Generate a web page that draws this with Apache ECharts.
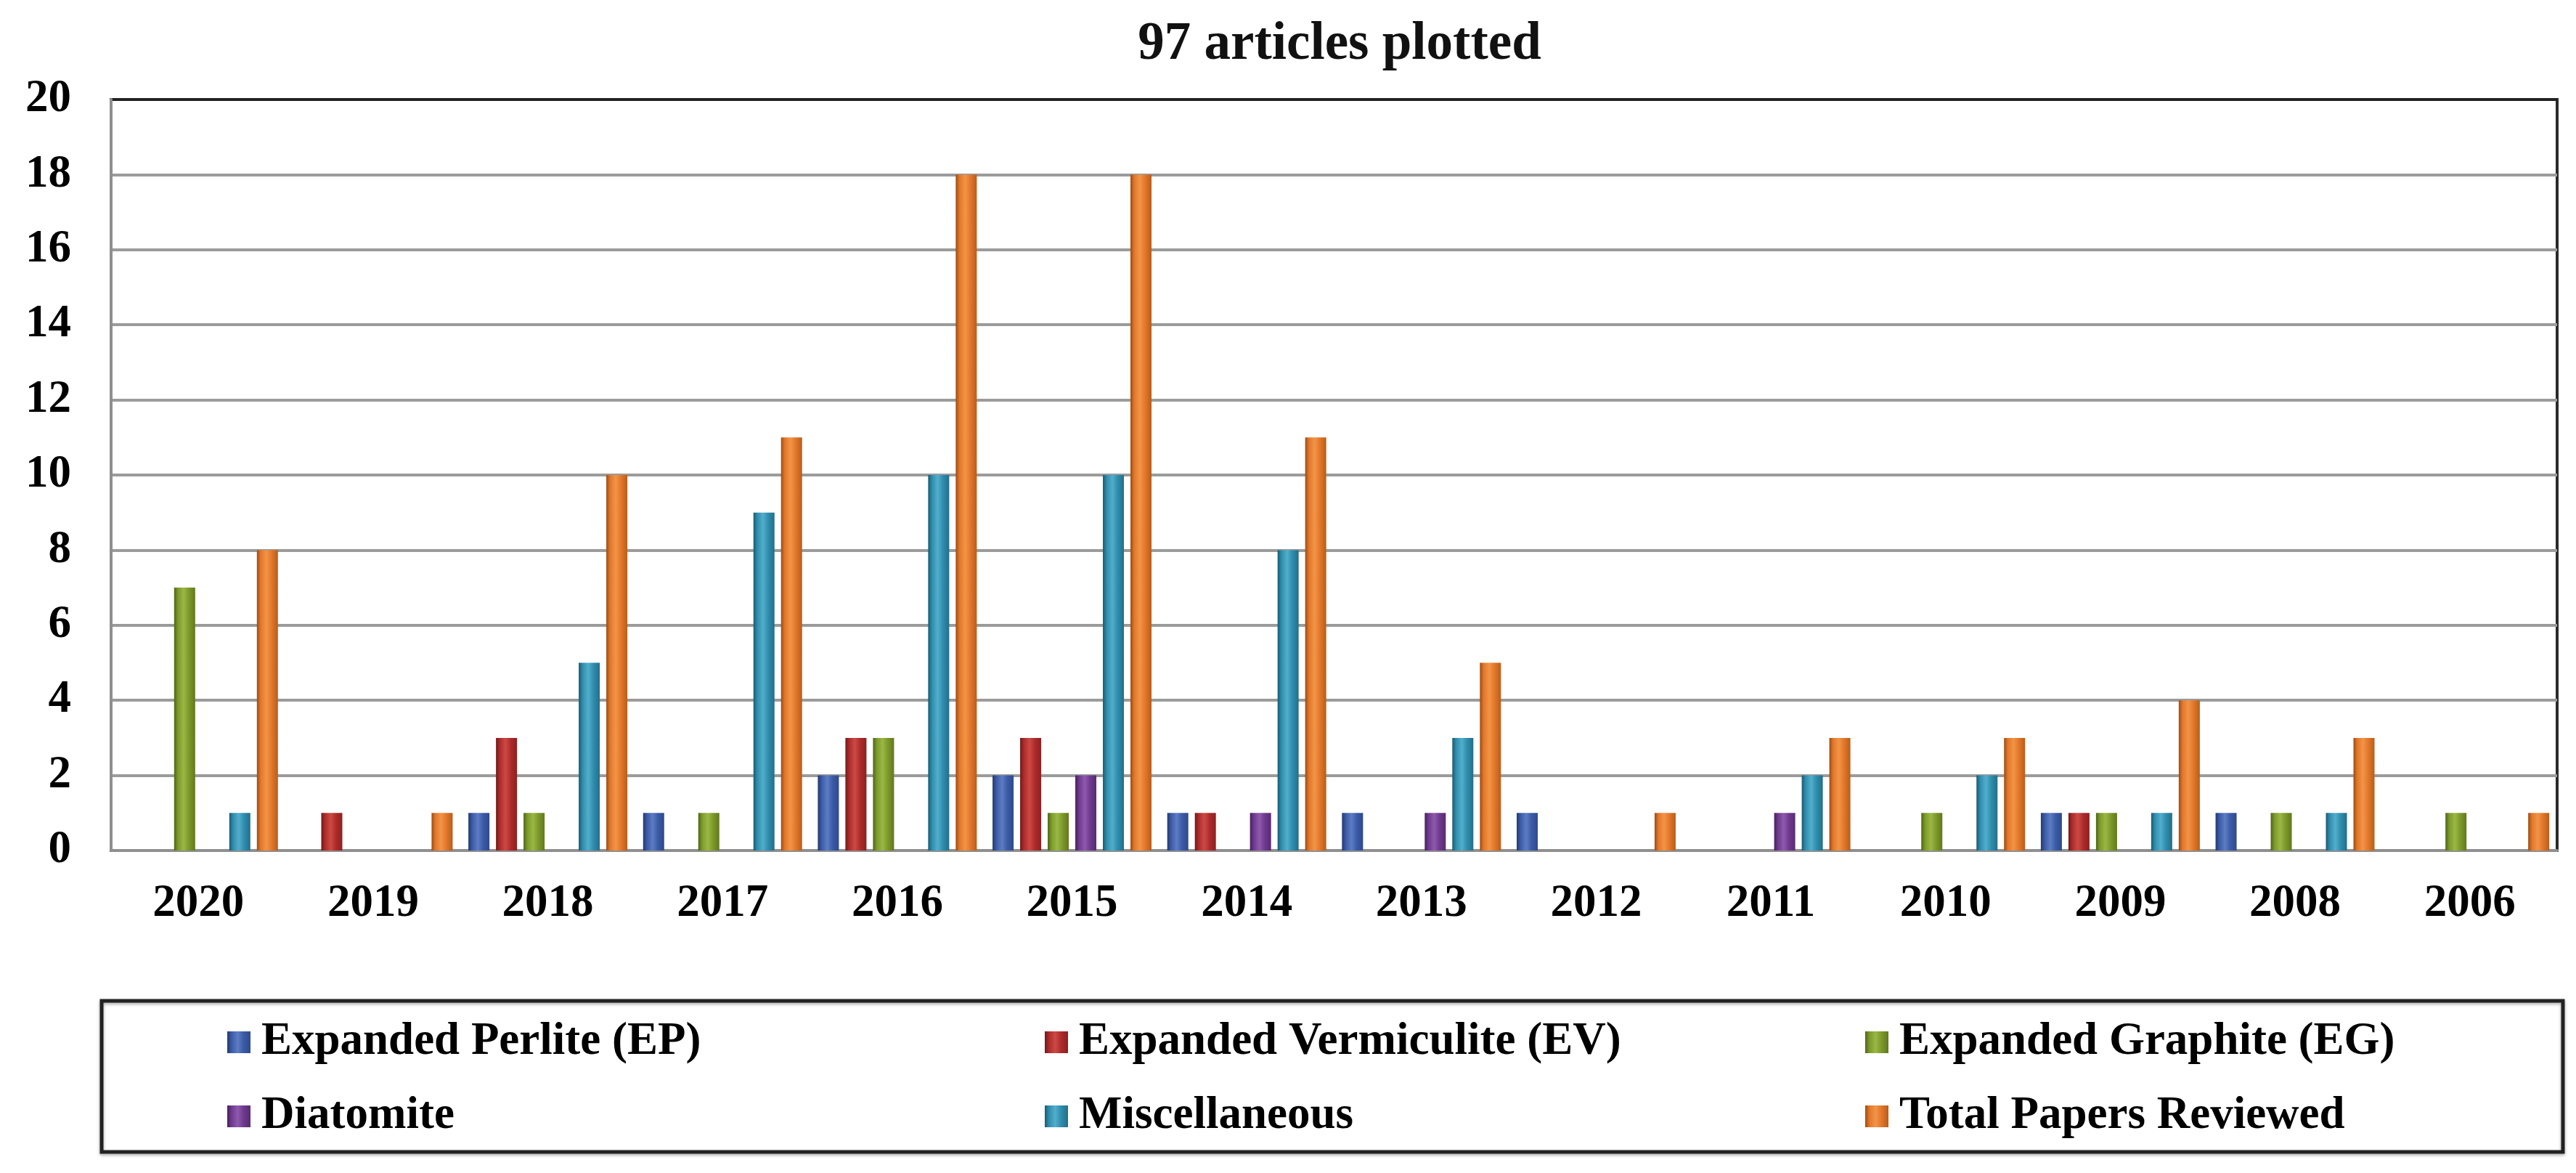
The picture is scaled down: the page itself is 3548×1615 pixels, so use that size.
<!DOCTYPE html>
<html>
<head>
<meta charset="utf-8">
<script src="https://cdn.jsdelivr.net/npm/echarts@6/dist/echarts.min.js"></script>
<style>
html,body{margin:0;padding:0;background:#ffffff;}
#chart{width:3548px;height:1615px;}
</style>
</head>
<body>
<div id="chart"></div>
<script>
// ---- data ----
const categories = ['2020','2019','2018','2017','2016','2015','2014','2013','2012','2011','2010','2009','2008','2006'];
const seriesNames = ['Expanded Perlite (EP)','Expanded Vermiculite (EV)','Expanded Graphite (EG)','Diatomite','Miscellaneous','Total Papers Reviewed'];
const perliteEP      = [0,0,1,1,2,2,1,1,1,0,0,1,1,0];
const vermiculiteEV  = [0,1,3,0,3,3,1,0,0,0,0,1,0,0];
const graphiteEG     = [7,0,1,1,3,1,0,0,0,0,1,1,1,1];
const diatomite      = [0,0,0,0,0,2,1,1,0,1,0,0,0,0];
const miscellaneous  = [1,0,5,9,10,10,8,3,0,2,2,1,1,0];
const totalReviewed  = [8,1,10,11,18,18,11,5,1,3,3,4,3,1];
const yTickLabels    = ['0','2','4','6','8','10','12','14','16','18','20'];
const titleText = '97 articles plotted';

// ---- styles ----
const seriesData = [perliteEP, vermiculiteEV, graphiteEG, diatomite, miscellaneous, totalReviewed];
const palettes = [
  ['#24386e','#3b5ba6','#5d7cc4','#2e4a8e'],
  ['#6e1a1a','#ad2b2b','#cc4a45','#8e2020'],
  ['#4f6418','#7c9a2a','#9bb845','#62781e'],
  ['#45205c','#6f3a8e','#8e5aad','#572b72'],
  ['#1b5a70','#2f8dad','#52aecb','#236f89'],
  ['#9a4c14','#e2772a','#f29447','#b95d1a']
];
function grad(p){
  return {type:'linear',x:0,y:0,x2:1,y2:0,colorStops:[
    {offset:0,color:p[0]},{offset:0.18,color:p[1]},{offset:0.45,color:p[2]},
    {offset:0.7,color:p[1]},{offset:1,color:p[3]}]};
}
const FONT = "'Liberation Serif','Times New Roman',serif";

const series = seriesNames.map((name,i)=>({
  name: name,
  type: 'bar',
  data: seriesData[i],
  barWidth: 29,
  barGap: '31%',
  barCategoryGap: '9%',
  itemStyle: {color: grad(palettes[i])},
  emphasis: {disabled: true}
}));

const legendLefts = [313, 1439, 2569];
const legendTops = [1403, 1505];
const legends = seriesNames.map((name,i)=>({
  data: [name],
  left: legendLefts[i%3],
  top: legendTops[Math.floor(i/3)],
  padding: 0,
  itemWidth: 32,
  itemHeight: 30,
  icon: 'rect',
  selectedMode: false,
  textStyle: {fontFamily: FONT, fontWeight: 'bold', fontSize: 63, color: '#000', lineHeight: 64, padding: [0,0,0,10]}
}));

const splitColors = yTickLabels.map((t,i)=> i === yTickLabels.length-1 ? '#222222' : '#9b9b9b');

const chart = echarts.init(document.getElementById('chart'), null, {renderer:'canvas'});
chart.setOption({
  animation: false,
  backgroundColor: '#ffffff',
  title: {
    text: titleText,
    left: 1845,
    top: 26,
    padding: 0,
    textAlign: 'center',
    textStyle: {fontFamily: FONT, fontWeight: 'bold', fontSize: 73, color: '#111'}
  },
  legend: legends,
  grid: {
    left: 153, right: 26, top: 137, bottom: 444,
    show: true, borderColor: '#2a2a2a', borderWidth: 4, backgroundColor: 'transparent'
  },
  xAxis: {
    type: 'category',
    data: categories,
    axisLine: {lineStyle: {color: '#8f8f8f', width: 4}},
    axisTick: {show: false},
    axisLabel: {fontFamily: FONT, fontWeight: 'bold', fontSize: 63, color: '#000', margin: 42},
    splitLine: {show: false}
  },
  yAxis: {
    type: 'value',
    min: 0, max: 20, interval: 2,
    axisLine: {show: true, lineStyle: {color: '#8f8f8f', width: 4}},
    axisTick: {show: false},
    axisLabel: {
      fontFamily: FONT, fontWeight: 'bold', fontSize: 63, color: '#000', margin: 55,
      formatter: (v)=> yTickLabels[Math.round(v/2)]
    },
    splitLine: {lineStyle: {color: splitColors, width: 4}}
  },
  graphic: [{
    type: 'rect',
    shape: {x: 140, y: 1378, width: 3390, height: 208},
    style: {fill: 'transparent', stroke: '#222', lineWidth: 5, shadowBlur: 4, shadowColor: 'rgba(0,0,0,0.35)', shadowOffsetY: 2},
    z: -1, silent: true
  }],
  series: series
});
</script>
</body>
</html>
